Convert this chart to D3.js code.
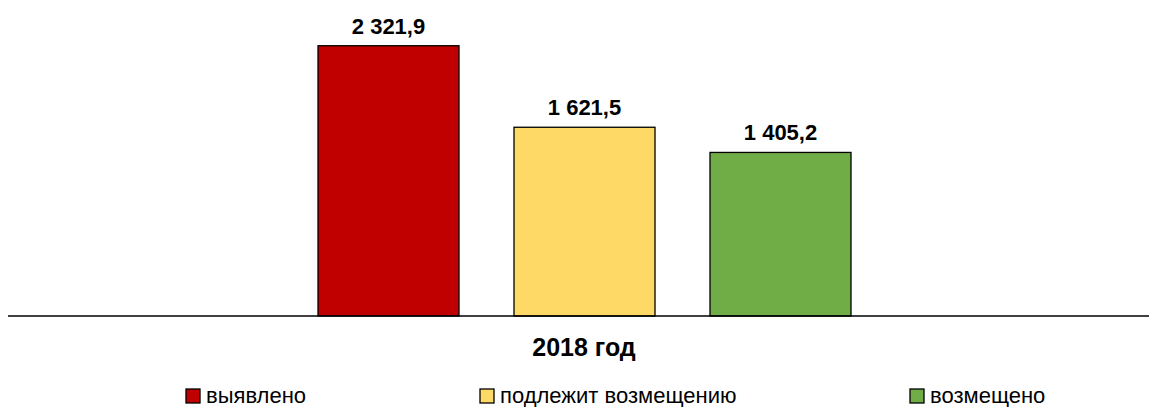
<!DOCTYPE html>
<html>
<head>
<meta charset="utf-8">
<script src="https://cdn.jsdelivr.net/npm/d3@7"></script>
<style>
  body { margin: 0; background: #fff; }
  text { font-family: "Liberation Sans", Arial, sans-serif; }
</style>
</head>
<body>
<script>
// data
const seriesNames = ["выявлено", "подлежит возмещению", "возмещено"];
const seriesValues = [2321.9, 1621.5, 1405.2];
const seriesColors = ["#c00000", "#ffd966", "#70ad47"];
const categoryLabel = "2018 год";

const width = 1149, height = 407;
const baseY = 316;

const svg = d3.select("body").append("svg")
    .attr("width", width)
    .attr("height", height);

const x = d3.scaleBand()
    .domain(seriesNames)
    .range([318, 851])
    .paddingInner(55 / 196);

const y = d3.scaleLinear()
    .domain([0, 2500])
    .range([baseY, 25]);

const fmt = v => d3.format(",.1f")(v).replace(/,/g, " ").replace(".", ",");

svg.selectAll("rect.bar")
  .data(seriesNames)
  .join("rect")
    .attr("class", "bar")
    .attr("x", d => x(d))
    .attr("y", (d, i) => y(seriesValues[i]))
    .attr("width", x.bandwidth())
    .attr("height", (d, i) => baseY - y(seriesValues[i]))
    .attr("fill", (d, i) => seriesColors[i])
    .attr("stroke", "#000")
    .attr("stroke-width", 1.3);

svg.selectAll("text.val")
  .data(seriesNames)
  .join("text")
    .attr("class", "val")
    .attr("x", d => x(d) + x.bandwidth() / 2)
    .attr("y", (d, i) => y(seriesValues[i]) - 12)
    .attr("text-anchor", "middle")
    .attr("font-size", 22)
    .attr("font-weight", "bold")
    .text((d, i) => fmt(seriesValues[i]));

// axis line
svg.append("line")
    .attr("x1", 8).attr("x2", width)
    .attr("y1", baseY).attr("y2", baseY)
    .attr("stroke", "#000")
    .attr("stroke-width", 1.5);

svg.append("text")
    .attr("x", 584)
    .attr("y", 356)
    .attr("text-anchor", "middle")
    .attr("font-size", 25)
    .attr("font-weight", "bold")
    .text(categoryLabel);

// legend
const legendX = [186, 480, 910];
const lg = svg.selectAll("g.leg")
  .data(seriesNames)
  .join("g")
    .attr("class", "leg")
    .attr("transform", (d, i) => `translate(${legendX[i]},389)`);

lg.append("rect")
    .attr("width", 14).attr("height", 14)
    .attr("fill", (d, i) => seriesColors[i])
    .attr("stroke", "#000")
    .attr("stroke-width", 1.3);

lg.append("text")
    .attr("x", 20)
    .attr("y", 14)
    .attr("font-size", 22)
    .text(d => d);
</script>
</body>
</html>
